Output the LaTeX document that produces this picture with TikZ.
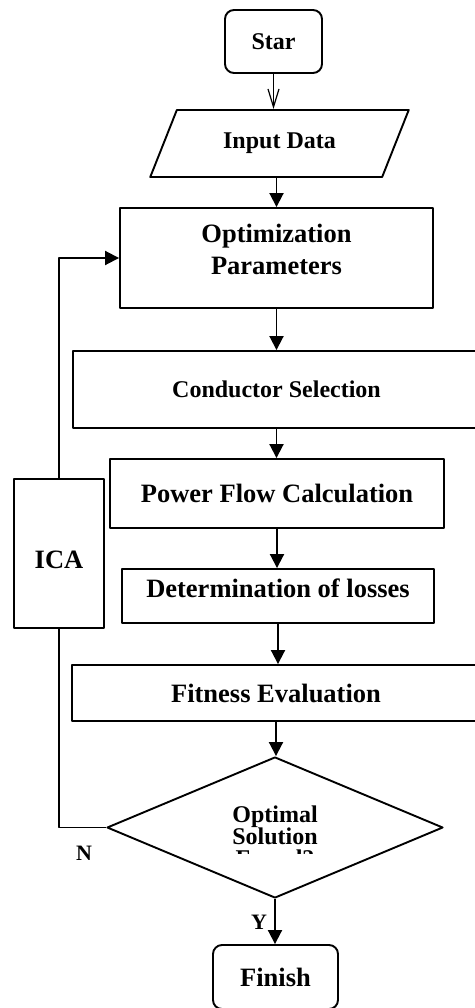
\documentclass[tikz,border=0pt]{standalone}
\usepackage{fontspec}
\setmainfont{Liberation Serif}
\usetikzlibrary{shapes.geometric,arrows.meta}
\begin{document}
\begin{tikzpicture}[x=1pt, y=-1pt, line width=1.9pt, line join=round,
	font=\bfseries\fontsize{26.5}{32}\selectfont, >={Triangle[length=14pt,width=14pt]},
	box/.style={draw, rectangle, inner sep=0pt},
	term/.style={box, rounded corners=9pt},
	small/.style={font=\bfseries\fontsize{24}{22}\selectfont}]
	\useasboundingbox (0,0) rectangle (474,1008);
	\node[term, small, minimum width=97, minimum height=63] (start) at (273.5,41.5) {Star};
	\node[draw, small, trapezium, trapezium stretches=true, trapezium left angle=55, trapezium right angle=125, minimum width=259, minimum height=67, inner sep=0pt] (input) at (279.5,143.5) {Input Data};
	\node[box, align=center, text depth=17pt, minimum width=313, minimum height=100] (param) at (276.5,258) {Optimization\\Parameters};
	\node[box, small, minimum width=407, minimum height=77] (cond) at (276.5,389.5) {Conductor Selection};
	\node[box, minimum width=334, minimum height=69] (flow) at (277,493.5) {Power Flow Calculation};
	\node[box, text depth=16pt, minimum width=312, minimum height=54] (loss) at (278,596) {Determination of losses};
	\node[box, minimum width=408, minimum height=56] (fit) at (276,693) {Fitness Evaluation};
	\node[draw, diamond, aspect=2.38, minimum width=336, minimum height=141, inner sep=0pt] (dec) at (275,827.5) {};
	\begin{scope}
		\clip (150,790) rectangle (400,853);
		\node[small, align=center, inner sep=0pt] (qtext) at (275,836) {Optimal\\Solution\\Found?};
	\end{scope}
	\node[term, minimum width=125, minimum height=64] (finish) at (275.5,977) {Finish};
	\node[box, fill=white, text height=30pt, minimum width=90, minimum height=149] (ica) at (59,553.5) {ICA};
	\node[font=\bfseries\fontsize{22}{24}\selectfont] (lblN) at (84,853) {N};
	\node[font=\bfseries\fontsize{22}{24}\selectfont] (lblY) at (259,922) {Y};
	% main flow
	\draw[-{Straight Barb[length=18pt,width=11pt]}, line width=1.2pt] (start.south) -- (start.south |- input.north);
	\draw[->] (input.south -| param.north) -- (param.north);
	\foreach \a/\b in {param/cond, cond/flow, flow/loss, loss/fit, fit/dec, dec/finish}
		\draw[->] (\a.south) -- (\a.south |- \b.north);
	% loop back through ICA
	\draw (dec.west) -| (ica.south);
	\draw[->] (ica.north) |- (param.west);
\end{tikzpicture}
\end{document}
